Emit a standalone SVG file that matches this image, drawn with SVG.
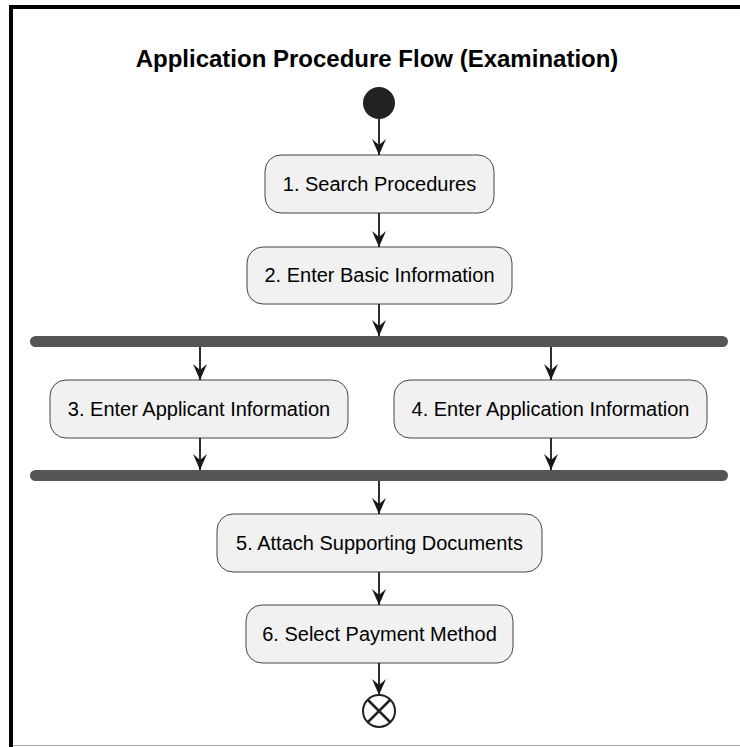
<svg xmlns="http://www.w3.org/2000/svg" width="740" height="747" viewBox="0 0 740 747">
<style>
.node rect{fill:#F1F1F1;stroke:#181818;stroke-width:0.8}
.node text{font-family:"Liberation Sans",Arial,sans-serif;font-size:20px;fill:#000;text-anchor:middle}
.bar{fill:#555555}
.conn line{stroke:#181818;stroke-width:1.8;marker-end:url(#ah)}
.title{font-family:"Liberation Sans",Arial,sans-serif;font-size:24px;font-weight:bold;text-anchor:middle}
</style>
<defs>
<marker id="ah" viewBox="0 0 16 14" refX="16" refY="7" markerWidth="16" markerHeight="14" markerUnits="userSpaceOnUse" orient="auto">
<path d="M0,0 L16,7 L0,14 L6,7 Z" fill="#181818"/>
</marker>
</defs>
<rect width="740" height="747" fill="#fff"/>
<path d="M11,747 V7 H740" fill="none" stroke="#000" stroke-width="4"/>
<line x1="13" y1="745.5" x2="740" y2="745.5" stroke="#aaa" stroke-width="1"/>
<text class="title" x="377" y="67">Application Procedure Flow (Examination)</text>

<g id="start"><circle cx="379" cy="103" r="16" fill="#222"/></g>
<g id="n1" class="node"><rect x="265" y="155" width="229" height="58" rx="16"/><text x="379.5" y="191">1. Search Procedures</text></g>
<g id="n2" class="node"><rect x="247" y="247" width="265" height="57" rx="16"/><text x="379.5" y="282">2. Enter Basic Information</text></g>
<g id="fork"><rect class="bar" x="30" y="336" width="698" height="11" rx="5.5"/></g>
<g id="n3" class="node"><rect x="50" y="380" width="298" height="58" rx="16"/><text x="199" y="416">3. Enter Applicant Information</text></g>
<g id="n4" class="node"><rect x="394" y="380" width="313" height="58" rx="16"/><text x="550.5" y="416">4. Enter Application Information</text></g>
<g id="join"><rect class="bar" x="30" y="470" width="698" height="11" rx="5.5"/></g>
<g id="n5" class="node"><rect x="217" y="514" width="325" height="58" rx="16"/><text x="379.5" y="550">5. Attach Supporting Documents</text></g>
<g id="n6" class="node"><rect x="246" y="605" width="267" height="58" rx="16"/><text x="379.5" y="641">6. Select Payment Method</text></g>
<g id="end"><circle cx="379" cy="711" r="16" fill="none" stroke="#222" stroke-width="2"/><path d="M368,700 L390,722 M390,700 L368,722" stroke="#222" stroke-width="2.5"/></g>

<g id="connectors" class="conn">
<line x1="379" y1="119" x2="379" y2="155"/>
<line x1="379" y1="213" x2="379" y2="247"/>
<line x1="379" y1="304" x2="379" y2="336"/>
<line x1="200" y1="347" x2="200" y2="380"/>
<line x1="551" y1="347" x2="551" y2="380"/>
<line x1="200" y1="438" x2="200" y2="470"/>
<line x1="551" y1="438" x2="551" y2="470"/>
<line x1="379" y1="481" x2="379" y2="514"/>
<line x1="379" y1="572" x2="379" y2="605"/>
<line x1="379" y1="663" x2="379" y2="695"/>
</g>
</svg>
